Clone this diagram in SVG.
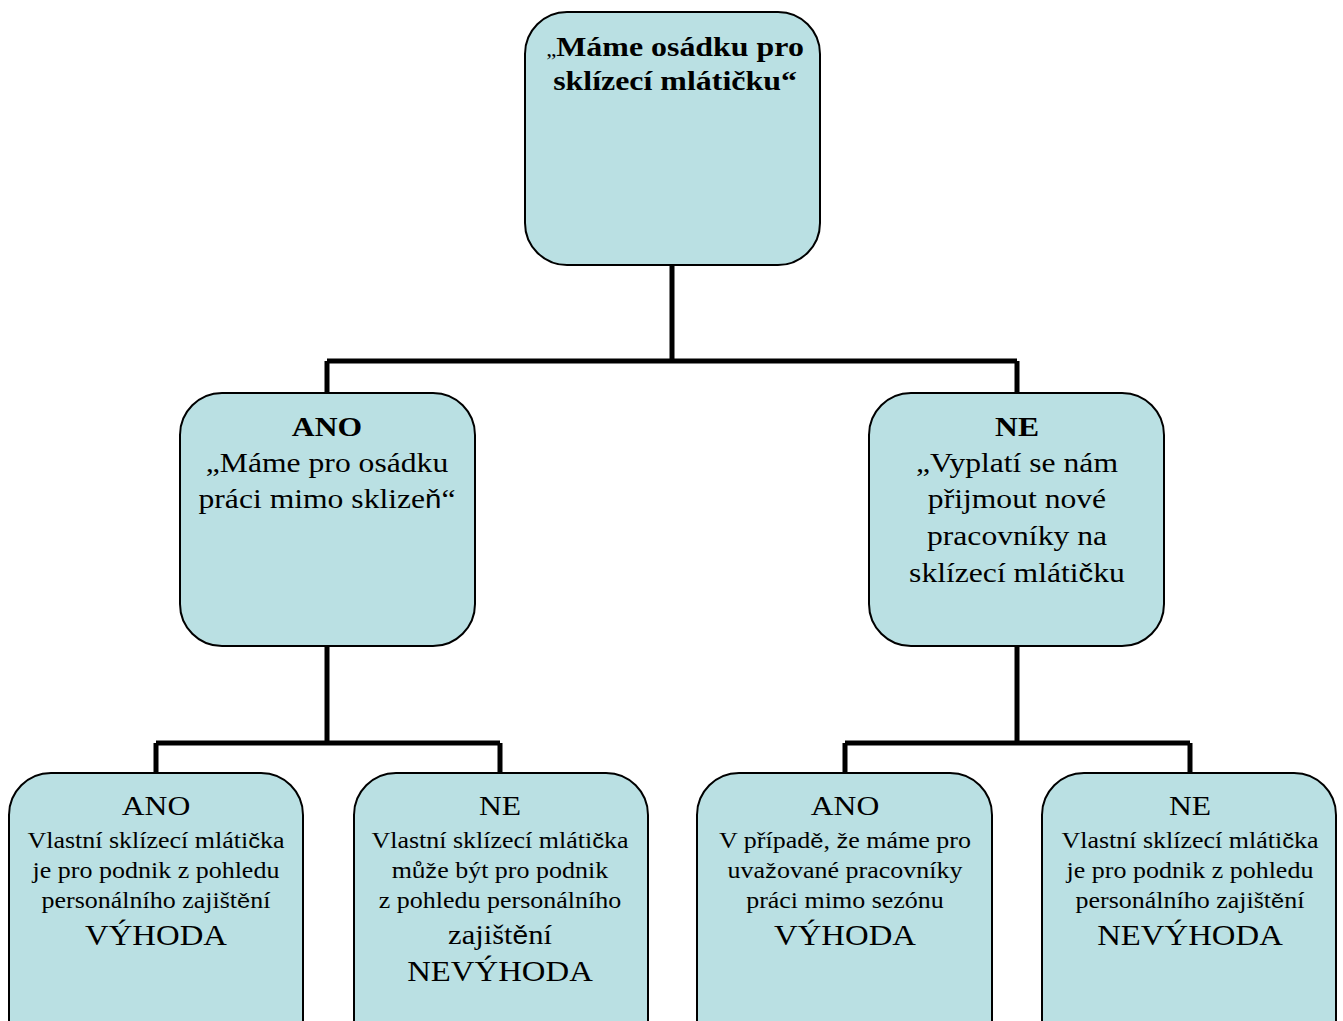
<svg xmlns="http://www.w3.org/2000/svg" width="1343" height="1021" viewBox="0 0 1343 1021">
<style>
.box{fill:#BAE0E3;stroke:#000;stroke-width:2}
.t{font-family:"Liberation Serif","Times New Roman",serif;fill:#000;text-anchor:middle}
.b{font-weight:bold}
.s{font-family:"Liberation Sans",Arial,sans-serif;font-weight:normal}
.conn{fill:none;stroke:#000;stroke-width:5;stroke-linejoin:miter}
</style>
<rect width="1343" height="1021" fill="#fff"/>
<g id="connectors">
<path class="conn" d="M672,265 V361 M327,361 H1017 M327,361 V393 M1017,361 V393"/>
<path class="conn" d="M327,646 V743 M156,743 H500 M156,743 V773 M500,743 V773"/>
<path class="conn" d="M1017,646 V743 M845,743 H1190 M845,743 V773 M1190,743 V773"/>
</g>
<g id="n0">
<rect class="box" x="525" y="12" width="295" height="253" rx="42"/>
<text class="t b" font-size="28" transform="translate(675,0) scale(1.14,1)"><tspan x="0" y="56"><tspan font-weight="normal" font-size="20">„</tspan>Máme osádku pro</tspan><tspan x="0" y="90">sklízecí mlátičku“</tspan></text>
</g>
<g id="n1">
<rect class="box" x="180" y="393" width="295" height="253" rx="42"/>
<text class="t" font-size="28" transform="translate(327,0) scale(1.13,1)"><tspan x="0" y="436" font-weight="bold">ANO</tspan><tspan x="0" y="472">„Máme pro osádku</tspan><tspan x="0" y="508">práci mimo sklize<tspan class="s" font-size="26">ň</tspan>“</tspan></text>
</g>
<g id="n2">
<rect class="box" x="869" y="393" width="295" height="253" rx="42"/>
<text class="t" font-size="28" transform="translate(1017,0) scale(1.13,1)"><tspan x="0" y="436" font-weight="bold">NE</tspan><tspan x="0" y="472">„Vyplatí se nám</tspan><tspan x="0" y="508">přijmout nové</tspan><tspan x="0" y="545">pracovníky na</tspan><tspan x="0" y="582">sklízecí mláti<tspan class="s" font-size="26">č</tspan>ku</tspan></text>
</g>
<g id="n3">
<rect class="box" x="9" y="773" width="294" height="290" rx="42"/>
<text class="t" font-size="23" transform="translate(156,0) scale(1.13,1)"><tspan x="0" y="815" font-size="28">ANO</tspan><tspan x="0" y="848">Vlastní sklízecí mláti<tspan class="s" font-size="21">č</tspan>ka</tspan><tspan x="0" y="878">je pro podnik z pohledu</tspan><tspan x="0" y="908">personálního zajišt<tspan class="s" font-size="21">ě</tspan>ní</tspan><tspan x="0" y="945" font-size="29">VÝHODA</tspan></text>
</g>
<g id="n4">
<rect class="box" x="354" y="773" width="294" height="290" rx="42"/>
<text class="t" font-size="23" transform="translate(500,0) scale(1.13,1)"><tspan x="0" y="815" font-size="28">NE</tspan><tspan x="0" y="848">Vlastní sklízecí mláti<tspan class="s" font-size="21">č</tspan>ka</tspan><tspan x="0" y="878">m<tspan class="s" font-size="21">ůž</tspan>e být pro podnik</tspan><tspan x="0" y="908">z pohledu personálního</tspan><tspan x="0" y="944" font-size="27">zajišt<tspan class="s" font-size="25">ě</tspan>ní</tspan><tspan x="0" y="981" font-size="29">NEVÝHODA</tspan></text>
</g>
<g id="n5">
<rect class="box" x="697" y="773" width="295" height="290" rx="42"/>
<text class="t" font-size="23" transform="translate(845,0) scale(1.13,1)"><tspan x="0" y="815" font-size="28">ANO</tspan><tspan x="0" y="848">V případ<tspan class="s" font-size="21">ě</tspan>, <tspan class="s" font-size="21">ž</tspan>e máme pro</tspan><tspan x="0" y="878">uva<tspan class="s" font-size="21">ž</tspan>ované pracovníky</tspan><tspan x="0" y="908">práci mimo sezónu</tspan><tspan x="0" y="945" font-size="29">VÝHODA</tspan></text>
</g>
<g id="n6">
<rect class="box" x="1042" y="773" width="294" height="290" rx="42"/>
<text class="t" font-size="23" transform="translate(1190,0) scale(1.13,1)"><tspan x="0" y="815" font-size="28">NE</tspan><tspan x="0" y="848">Vlastní sklízecí mláti<tspan class="s" font-size="21">č</tspan>ka</tspan><tspan x="0" y="878">je pro podnik z pohledu</tspan><tspan x="0" y="908">personálního zajišt<tspan class="s" font-size="21">ě</tspan>ní</tspan><tspan x="0" y="945" font-size="29">NEVÝHODA</tspan></text>
</g>
</svg>
